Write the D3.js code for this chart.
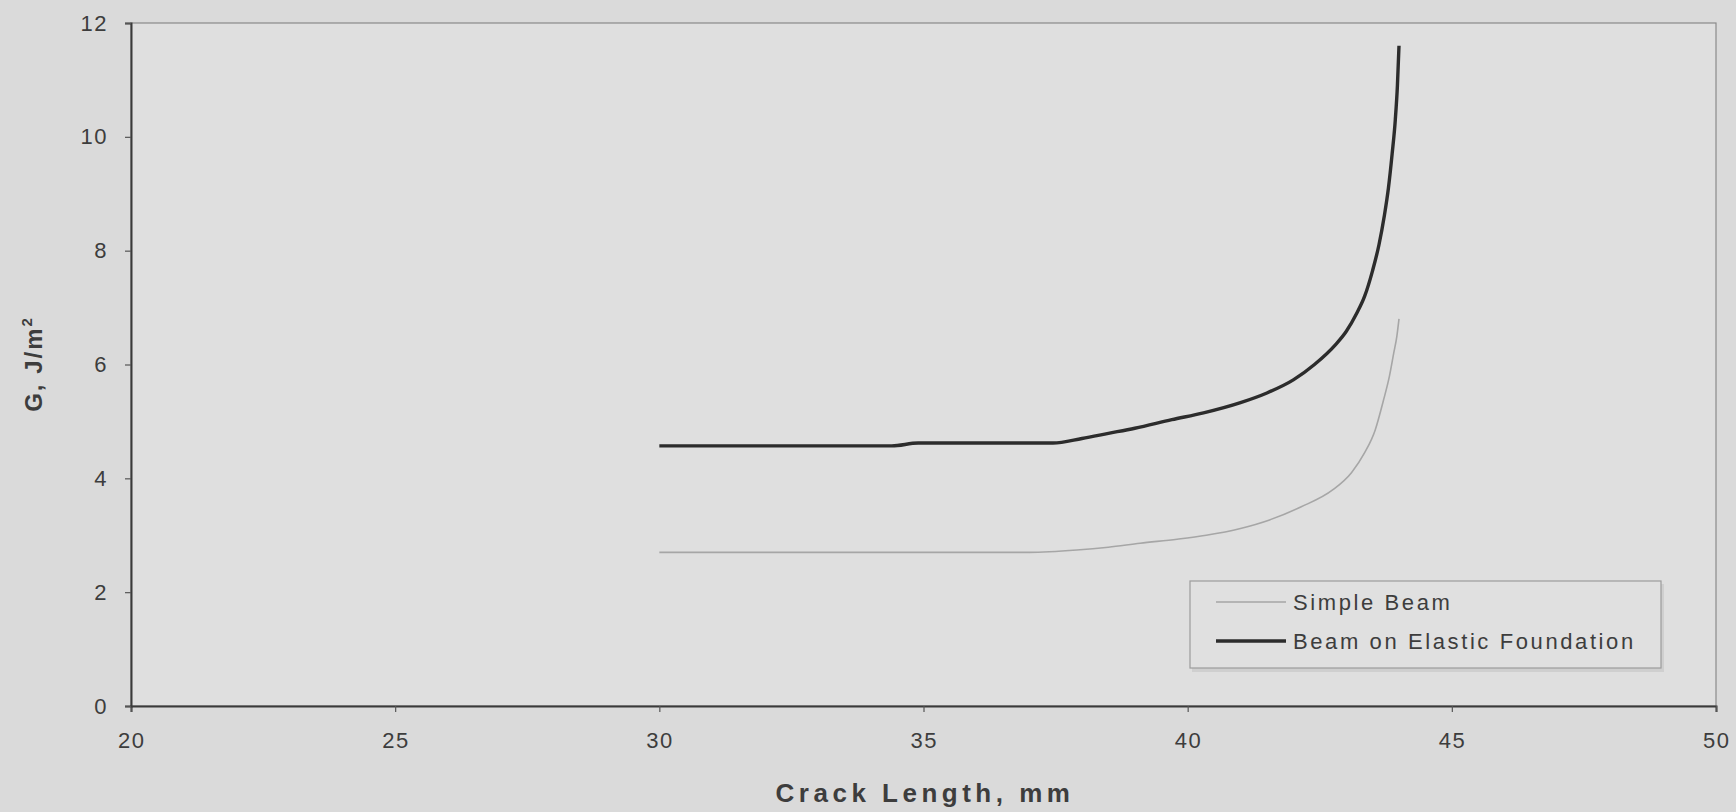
<!DOCTYPE html>
<html>
<head>
<meta charset="utf-8">
<script src="https://cdn.jsdelivr.net/npm/d3@7"></script>
<style>
  html, body { margin: 0; padding: 0; background: #dadada; }
  svg { display: block; }
  text { font-family: "Liberation Sans", Arial, Helvetica, sans-serif; fill: #3d3d3d; }
</style>
</head>
<body>
<svg id="chart" width="1736" height="812"></svg>
<script>
// Energy release rate G vs crack length for two beam models
const xTicks = [20, 25, 30, 35, 40, 45, 50];
const yTicks = [0, 2, 4, 6, 8, 10, 12];

const simpleA = [30, 37.0, 37.9, 38.5, 39.1, 39.8, 40.35, 41.0, 41.55, 42.15, 42.75, 43.1, 43.35, 43.55, 43.7, 43.82, 43.9, 43.96, 44.0];
const simpleG = [2.70, 2.70, 2.74, 2.79, 2.86, 2.93, 3.00, 3.12, 3.27, 3.50, 3.80, 4.10, 4.45, 4.85, 5.35, 5.80, 6.20, 6.50, 6.80];

const elasticA = [30, 34.4, 34.9, 37.45, 38.0, 38.5, 39.0, 39.7, 40.3, 41.0, 41.5, 42.0, 42.4, 42.8, 43.0, 43.2, 43.35, 43.5, 43.62, 43.72, 43.8, 43.87, 43.93, 43.97, 44.0];
const elasticG = [4.57, 4.57, 4.62, 4.62, 4.70, 4.79, 4.88, 5.03, 5.15, 5.33, 5.50, 5.73, 6.00, 6.35, 6.58, 6.90, 7.20, 7.65, 8.10, 8.60, 9.10, 9.70, 10.3, 10.9, 11.6];

const seriesNames = ["Simple Beam", "Beam on Elastic Foundation"];

const svg = d3.select("#chart");
const W = 1736, H = 812;
const plot = { left: 131, right: 1716, top: 23, bottom: 706 };

const x = d3.scaleLinear().domain([20, 50]).range([plot.left, plot.right]);
const y = d3.scaleLinear().domain([0, 12]).range([plot.bottom, plot.top]);

svg.append("rect").attr("width", W).attr("height", H).attr("fill", "#dadada");

// plot area
svg.append("rect")
  .attr("x", plot.left).attr("y", plot.top)
  .attr("width", plot.right - plot.left).attr("height", plot.bottom - plot.top)
  .attr("fill", "#dfdfdf")
  .attr("stroke", "#8a8a8a").attr("stroke-width", 1.2);

// axes
const xAxis = svg.append("g")
  .attr("transform", `translate(0,${plot.bottom})`)
  .call(d3.axisBottom(x).tickValues(xTicks).tickSize(6).tickFormat(""));
const yAxis = svg.append("g")
  .attr("transform", `translate(${plot.left},0)`)
  .call(d3.axisLeft(y).tickValues(yTicks).tickSize(6).tickFormat(""));
[xAxis, yAxis].forEach(g => {
  g.selectAll("path.domain").attr("stroke", "#3a3a3a").attr("stroke-width", 2);
  g.selectAll(".tick line").attr("stroke", "#555").attr("stroke-width", 1.2);
});

// tick labels
svg.append("g").selectAll("text").data(xTicks).join("text")
  .attr("x", d => x(d)).attr("y", 740)
  .attr("text-anchor", "middle").attr("dominant-baseline", "central")
  .attr("font-size", 22).attr("letter-spacing", "1.5px")
  .attr("dx", 0.75)
  .text(d => d);

svg.append("g").selectAll("text").data(yTicks).join("text")
  .attr("x", 108).attr("y", d => y(d))
  .attr("text-anchor", "end").attr("dominant-baseline", "central")
  .attr("font-size", 22).attr("letter-spacing", "1.5px")
  .text(d => d);

// axis titles
svg.append("text")
  .attr("x", 925).attr("y", 793)
  .attr("text-anchor", "middle").attr("dominant-baseline", "central")
  .attr("font-size", 26).attr("font-weight", "bold").attr("letter-spacing", "4.5px")
  .text("Crack Length, mm");

const yTitle = svg.append("text")
  .attr("transform", "translate(42,364) rotate(-90)")
  .attr("text-anchor", "middle")
  .attr("font-size", 24).attr("font-weight", "bold").attr("letter-spacing", "2px");
yTitle.append("tspan").text("G, J/m");
yTitle.append("tspan").attr("font-size", 15).attr("dy", -10).text("2");

// curves
const line = d3.line()
  .x(d => x(d[0])).y(d => y(d[1]))
  .curve(d3.curveMonotoneX);

svg.append("path")
  .datum(d3.zip(simpleA, simpleG))
  .attr("d", line)
  .attr("fill", "none").attr("stroke", "#a6a6a6").attr("stroke-width", 1.6);

svg.append("path")
  .datum(d3.zip(elasticA, elasticG))
  .attr("d", line)
  .attr("fill", "none").attr("stroke", "#2c2c2c").attr("stroke-width", 3.4);

// legend
const lg = svg.append("g");
lg.append("rect")
  .attr("x", 1192).attr("y", 584).attr("width", 472).attr("height", 88)
  .attr("fill", "#cfcfcf");
lg.append("rect")
  .attr("x", 1190).attr("y", 581).attr("width", 471).attr("height", 87)
  .attr("fill", "#e0e0e0").attr("stroke", "#9c9c9c").attr("stroke-width", 1.2);

const legendRows = [
  { name: seriesNames[0], color: "#a6a6a6", width: 1.6, y: 602 },
  { name: seriesNames[1], color: "#2c2c2c", width: 3.4, y: 641 }
];
legendRows.forEach(r => {
  lg.append("line")
    .attr("x1", 1216).attr("x2", 1286).attr("y1", r.y).attr("y2", r.y)
    .attr("stroke", r.color).attr("stroke-width", r.width);
  lg.append("text")
    .attr("x", 1293).attr("y", r.y)
    .attr("dominant-baseline", "central")
    .attr("font-size", 22).attr("letter-spacing", "2.6px")
    .text(r.name);
});
</script>
</body>
</html>
